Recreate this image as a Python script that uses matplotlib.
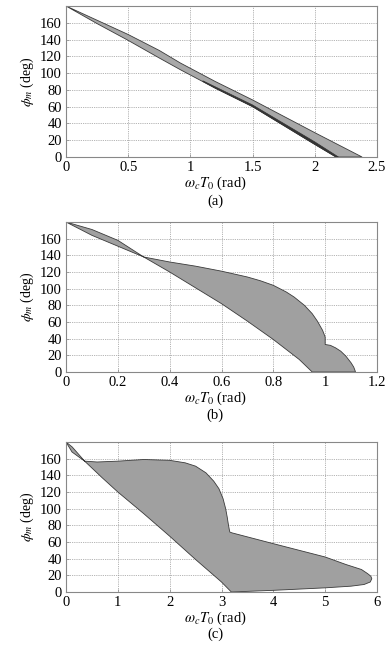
import matplotlib
matplotlib.use("Agg")
import matplotlib.pyplot as plt
import numpy as np

plt.rcParams['font.family'] = ['Liberation Serif', 'DejaVu Serif']
plt.rcParams['mathtext.fontset'] = 'stix'

# ---- data ----
# panel (a)
a_upper_x = [0, 0.25, 0.5, 0.75, 0.92, 1.2, 1.5, 2.0, 2.38]
a_upper_y = [180, 163, 146, 127, 112, 90, 68, 29, 0]
a_lower_x = [0, 0.25, 0.5, 0.75, 0.92, 1.2, 1.5, 2.0, 2.17]
a_lower_y = [180, 159, 139, 118, 104, 82, 60, 15, 0]
a_dark_upper_x = [1.1, 1.5, 2.0, 2.19]
a_dark_upper_y = [90.8, 62, 18, 0]
a_dark_lower_x = [1.1, 1.2, 1.5, 2.0, 2.17]
a_dark_lower_y = [90, 82, 60, 15, 0]

# panel (b)
b_curve1_x = [0, 0.1, 0.2, 0.3, 0.4, 0.5, 0.6, 0.7, 0.8, 0.9, 0.95]
b_curve1_y = [180, 171, 158, 138, 120, 101, 82, 61, 39, 15, 0]
b_curve2_x = [0, 0.1, 0.2, 0.3, 0.4, 0.5, 0.6, 0.7, 0.75, 0.8, 0.85, 0.88, 0.92, 0.95,
              0.97, 0.99, 1.0, 1.0, 1.02, 1.04, 1.06, 1.08, 1.1, 1.11, 1.115, 1.117]
b_curve2_y = [180, 164, 151, 138, 132, 127, 121, 114, 109.5, 104, 96, 90, 80, 70,
              61, 50, 42, 33, 32, 29, 25, 19, 11, 6, 2, 0]

# panel (c)
c_curve1_x = [0, 0.116, 0.36, 0.7, 1.0, 1.5, 2.0, 2.5, 3.0, 3.19]
c_curve1_y = [180, 168, 157, 137, 120, 94, 67, 39, 12, 0]
c_curve2_x = [0, 0.12, 0.36, 0.6, 1.0, 1.5, 2.0, 2.3, 2.5, 2.7, 2.85, 2.95, 3.03, 3.08,
              3.11, 3.13, 3.15, 3.16, 3.2, 4.0, 5.0, 5.4, 5.7, 5.82, 5.88, 5.9, 5.87,
              5.75, 5.5, 5.0, 4.0, 3.19]
c_curve2_y = [180, 174, 157, 156, 157, 159, 158, 155, 151, 143, 133, 124, 112, 100,
              90, 82, 75, 72, 71, 58, 42, 33, 27, 22, 19, 16, 12,
              9, 7, 5, 2, 0]

xlims = [(0, 2.5), (0, 1.2), (0, 6)]
xticks = [[0, 0.5, 1, 1.5, 2, 2.5], [0, 0.2, 0.4, 0.6, 0.8, 1, 1.2], [0, 1, 2, 3, 4, 5, 6]]
xticklabels = [['0', '0.5', '1', '1.5', '2', '2.5'],
               ['0', '0.2', '0.4', '0.6', '0.8', '1', '1.2'],
               ['0', '1', '2', '3', '4', '5', '6']]
yticks = [0, 20, 40, 60, 80, 100, 120, 140, 160]
captions = ['(a)', '(b)', '(c)']

W, H = 391, 652
fig = plt.figure(figsize=(W / 100, H / 100), dpi=100)

# axes boxes in pixels: (top, bottom)
boxes = [(6, 157), (222, 372), (442, 592)]
left_px, right_px = 66, 377
label_y = [183, 398, 618]
cap_y = [201, 415, 634]
text_cx = 215

fill_col = '#a0a0a0'
edge_col = '#3a3a3a'

axes = []
for i, (top, bot) in enumerate(boxes):
    ax = fig.add_axes([left_px / W, 1 - bot / H, (right_px - left_px) / W, (bot - top) / H])
    axes.append(ax)
    ax.set_xlim(*xlims[i])
    ax.set_ylim(0, 180)
    ax.set_xticks(xticks[i])
    ax.set_xticklabels(xticklabels[i])
    ax.set_yticks(yticks)
    ax.grid(True, linestyle=(0, (1, 1.2)), color='#9a9a9a', linewidth=0.6)
    ax.set_axisbelow(True)
    for s in ax.spines.values():
        s.set_color('#888888')
        s.set_linewidth(0.8)
    ax.tick_params(axis='both', direction='in', length=2, width=0.5, colors='#888888',
                   labelcolor='black', labelsize=10.5, pad=3)
    ax.set_ylabel(r'$\phi_m$ (deg)', fontsize=10, labelpad=3)
    fig.text(text_cx / W, 1 - label_y[i] / H, r'$\omega_c T_0$ (rad)',
             ha='center', va='center', fontsize=10.5)
    fig.text(text_cx / W, 1 - cap_y[i] / H, captions[i],
             ha='center', va='center', fontsize=10.5)

# panel (a)
ax = axes[0]
px = a_upper_x + a_lower_x[::-1]
py = a_upper_y + a_lower_y[::-1]
ax.fill(px, py, facecolor='#a8a8a8', edgecolor=edge_col, linewidth=0.6, zorder=2)
dx = a_dark_upper_x + a_dark_lower_x[::-1]
dy = a_dark_upper_y + a_dark_lower_y[::-1]
ax.fill(dx, dy, facecolor='#333333', edgecolor='#333333', linewidth=0.5, zorder=3)

# panel (b)
ax = axes[1]
px = b_curve1_x + b_curve2_x[::-1]
py = b_curve1_y + b_curve2_y[::-1]
ax.fill(px, py, facecolor=fill_col, edgecolor=edge_col, linewidth=0.6, zorder=2)

# panel (c)
ax = axes[2]
px = c_curve1_x + c_curve2_x[::-1]
py = c_curve1_y + c_curve2_y[::-1]
ax.fill(px, py, facecolor=fill_col, edgecolor=edge_col, linewidth=0.6, zorder=2)

fig.savefig('out.png', dpi=100)
